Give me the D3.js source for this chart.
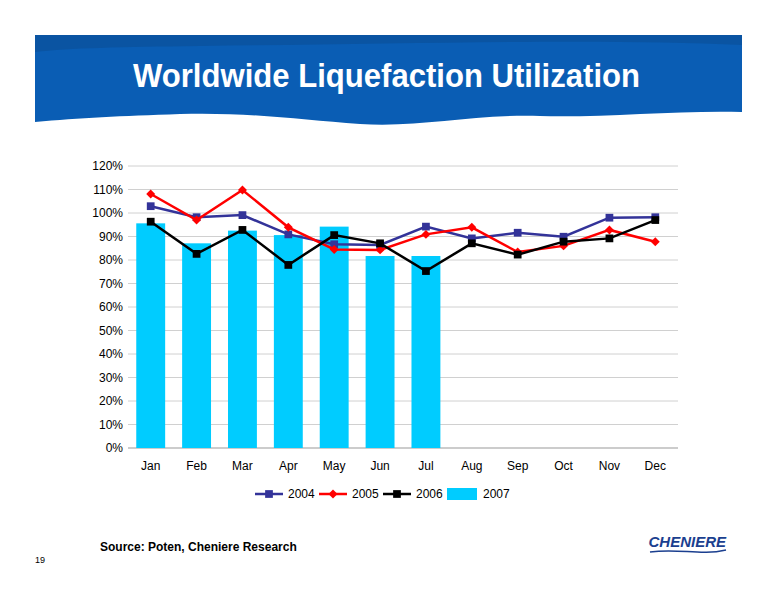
<!DOCTYPE html><html><head><meta charset="utf-8"><script src="https://cdn.jsdelivr.net/npm/d3@7"></script>
<style>body{margin:0;background:#fff}</style></head><body><svg id="c" width="776" height="600"></svg>
<script>
const months=["Jan","Feb","Mar","Apr","May","Jun","Jul","Aug","Sep","Oct","Nov","Dec"];
const s2004=[102.9,98.2,99.1,90.9,86.7,86.4,94.2,89.2,91.6,89.9,98.0,98.2];
const s2005=[108.1,97.0,109.8,93.9,84.5,84.3,90.9,93.9,83.4,86.0,92.8,87.8];
const s2006=[96.3,82.6,92.8,77.9,90.6,87.1,75.3,87.1,82.3,87.8,89.2,97.0];
const s2007=[95.6,87.1,92.5,90.6,94.2,81.7,81.7];
const yTicks=[0,10,20,30,40,50,60,70,80,90,100,110,120];
const svg=d3.select("#c");
svg.append("path").attr("d","M35,35 L742,35 L742,112 C680,110 600,118 540,116 C470,114 420,128 360,124 C300,120 250,112 180,114 C120,116 80,118 35,122 Z").attr("fill","#0a5db4");
svg.append("path").attr("d","M35,35 L742,35 L742,45 C600,38 400,44 200,46 C120,47 70,48 35,52 Z").attr("fill","#0a4f96").attr("opacity",0.6);
svg.append("text").attr("x",133).attr("y",87).attr("fill","#fff").attr("font-family","Liberation Sans, Arial").attr("font-weight","bold").attr("font-size",33).attr("textLength",507).attr("lengthAdjust","spacingAndGlyphs").text("Worldwide Liquefaction Utilization");
const x=d3.scaleBand().domain(months).range([128,678]).paddingInner(0.37).paddingOuter(0.18);
const y=d3.scaleLinear().domain([0,120]).range([448,166]);
const g=svg.append("g").attr("font-family","Liberation Sans, Arial").attr("font-size",12);
g.selectAll(".gl").data(yTicks).join("line").attr("x1",128).attr("x2",678).attr("y1",d=>y(d)).attr("y2",d=>y(d)).attr("stroke",d=>d===0?"#999":"#d0d0d0");
g.selectAll(".yl").data(yTicks).join("text").attr("x",123).attr("y",d=>y(d)+4).attr("text-anchor","end").text(d=>d+"%");
g.selectAll(".xl").data(months).join("text").attr("x",d=>x(d)+x.bandwidth()/2).attr("y",470).attr("text-anchor","middle").text(d=>d);
g.selectAll(".bar").data(s2007).join("rect").attr("x",(d,i)=>x(months[i])).attr("width",x.bandwidth()).attr("y",d=>y(d)).attr("height",d=>y(0)-y(d)).attr("fill","#00ccff");
const cx=i=>x(months[i])+x.bandwidth()/2;
const line=d3.line().x((d,i)=>cx(i)).y(d=>y(d));
function mark(sel,shape){return shape==="d"?sel.attr("d",d3.symbol().type(d3.symbolSquare).size(40)).attr("transform",function(){return this.getAttribute("transform")+" rotate(45)";}):sel.attr("d",d3.symbol().type(d3.symbolSquare).size(60));}
function series(data,color,shape){
  g.append("path").attr("d",line(data)).attr("fill","none").attr("stroke",color).attr("stroke-width",2.5);
  mark(g.selectAll(null).data(data).join("path").attr("transform",(d,i)=>`translate(${cx(i)},${y(d)})`).attr("fill",color),shape);
}
series(s2004,"#333399","s");
series(s2005,"#ff0000","d");
series(s2006,"#000000","s");
const lg=[["2004","#333399","s"],["2005","#ff0000","d"],["2006","#000000","s"]];
lg.forEach((l,i)=>{const lx=255+i*64;
 g.append("line").attr("x1",lx).attr("x2",lx+28).attr("y1",494).attr("y2",494).attr("stroke",l[1]).attr("stroke-width",2.5);
 mark(g.append("path").attr("transform",`translate(${lx+14},494)`).attr("fill",l[1]),l[2]);
 g.append("text").attr("x",lx+33).attr("y",498).text(l[0]);});
g.append("rect").attr("x",447).attr("y",488).attr("width",30).attr("height",12).attr("fill","#00ccff");
g.append("text").attr("x",483).attr("y",498).text("2007");
svg.append("text").attr("x",100).attr("y",551).attr("font-family","Liberation Sans, Arial").attr("font-weight","bold").attr("font-size",12).text("Source: Poten, Cheniere Research");
svg.append("text").attr("x",35).attr("y",563).attr("font-family","Liberation Sans, Arial").attr("font-size",9).text("19");
svg.append("text").attr("x",726).attr("y",547).attr("text-anchor","end").attr("font-family","Liberation Sans, Arial").attr("font-weight","bold").attr("font-style","italic").attr("font-size",15).attr("fill","#1b3f8f").text("CHENIERE");
svg.append("path").attr("d","M650,552 C680,548 700,556 726,550").attr("stroke","#1b3f8f").attr("fill","none").attr("stroke-width",1.5);
</script></body></html>
